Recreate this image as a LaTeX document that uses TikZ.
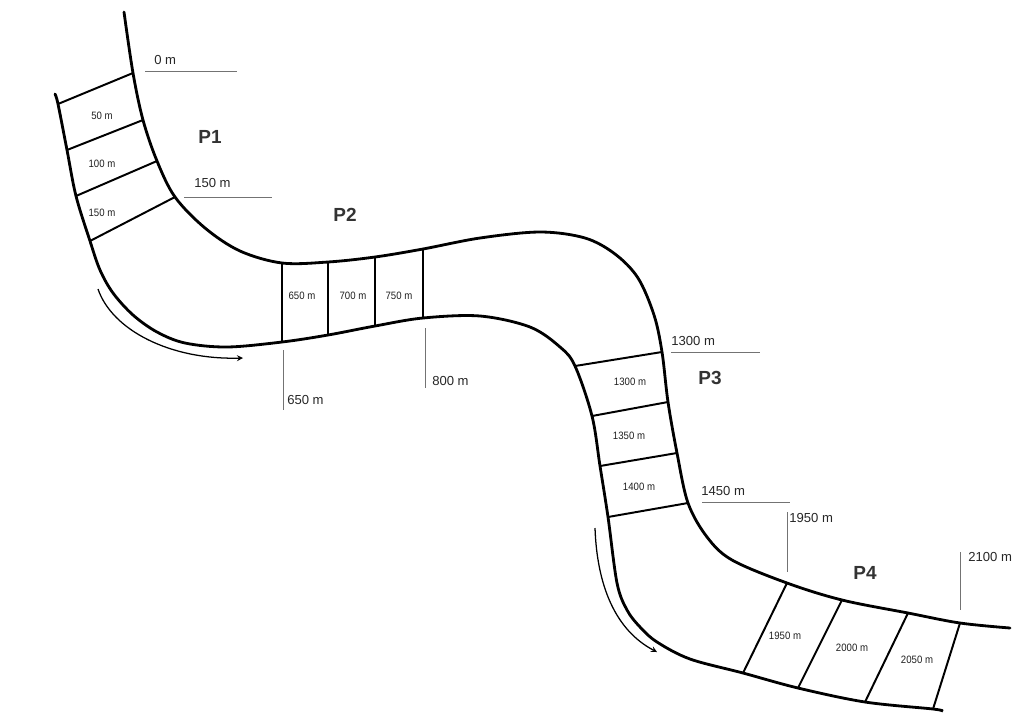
\documentclass[tikz,border=0pt]{standalone}
\usepackage{fontspec}
\setmainfont{Liberation Sans}
\newfontfamily\narrowfont[FakeStretch=0.9]{Liberation Sans}
\usepackage{tikz}

\begin{document}
\begin{tikzpicture}[x=0.025cm, y=-0.025cm, >=stealth,
    road/.style={line width=2pt, line cap=round},
    bar/.style={line width=1.4pt},
    guide/.style={line width=0.6pt, black!55},
    distlbl/.style={font=\fontsize{9.3}{11}\selectfont, text=black!85, anchor=west, inner sep=0pt},
    small/.style={font=\narrowfont\fontsize{7.6}{9}\selectfont, text=black!88, inner sep=0pt},
    sec/.style={font=\bfseries\fontsize{13.5}{16}\selectfont, text=black!80, inner sep=0pt}]
    \useasboundingbox (0,0) rectangle (1023,719);

    % Cross bars, outer end (a) and inner end (b)
    \coordinate (a1) at (133,73);   \coordinate (b1) at (58,104);
    \coordinate (a2) at (143,120);  \coordinate (b2) at (67,150);
    \coordinate (a3) at (157,161);  \coordinate (b3) at (76,196);
    \coordinate (a4) at (175,197);  \coordinate (b4) at (90,241);
    \coordinate (a5) at (282,263);  \coordinate (b5) at (282,342);
    \coordinate (a6) at (328,262);  \coordinate (b6) at (328,335);
    \coordinate (a7) at (375,257);  \coordinate (b7) at (375,326);
    \coordinate (a8) at (423,249);  \coordinate (b8) at (423,318);
    \coordinate (a9) at (662,352);  \coordinate (b9) at (575,366);
    \coordinate (a10) at (668,402); \coordinate (b10) at (592,416);
    \coordinate (a11) at (677,453); \coordinate (b11) at (600,466);
    \coordinate (a12) at (688,503); \coordinate (b12) at (608,517);
    \coordinate (a13) at (787,583); \coordinate (b13) at (743,673);
    \coordinate (a14) at (842,600); \coordinate (b14) at (798,688);
    \coordinate (a15) at (908,613); \coordinate (b15) at (865,702);
    \coordinate (a16) at (960,623); \coordinate (b16) at (933,709);

    % Road edges
    \draw[road] plot[smooth, tension=0.55] coordinates {(124,12) (a1) (a2) (a3) (a4) (205,228) (240,251) (a5) (a6) (a7) (a8) (480,238) (540,232) (585,238) (615,254) (638,278) (654,315) (a9) (a10) (a11) (a12) (707,537) (732,560) (a13) (a14) (a15) (a16) (1010,628)};
    \draw[road] plot[smooth, tension=0.55] coordinates {(55,94) (b1) (b2) (b3) (b4) (100,270) (113,293) (133,315) (157,332) (185,343) (227,347) (b5) (b6) (b7) (b8) (480,316) (530,327) (560,347) (b9) (b10) (b11) (b12) (617,583) (627,610) (640,627) (657,642) (690,659) (b13) (b14) (b15) (b16) (942,711)};

    \foreach \i in {1,...,16}
        \draw[bar] (a\i) -- (b\i);

    % Section labels
    \node[small] (s50) at (102,116) {50 m};
    \node[small] (s100) at (102,164) {100 m};
    \node[small] (s150) at (102,213) {150 m};
    \node[small] (s650) at (302,296) {650 m};
    \node[small] (s700) at (353,296) {700 m};
    \node[small] (s750) at (399,296) {750 m};
    \node[small] (s1300) at (630,382) {1300 m};
    \node[small] (s1350) at (629,436) {1350 m};
    \node[small] (s1400) at (639,487) {1400 m};
    \node[small] (s1950) at (785,636) {1950 m};
    \node[small] (s2000) at (852,648) {2000 m};
    \node[small] (s2050) at (917,660) {2050 m};

    \node[sec] (p1) at (210,137) {P1};
    \node[sec] (p2) at (345,215) {P2};
    \node[sec] (p3) at (710,378) {P3};
    \node[sec] (p4) at (865,573) {P4};

    % Distance marks
    \coordinate (g0) at (145,71);    \coordinate (h0) at (237,71);
    \coordinate (g150) at (184,197); \coordinate (h150) at (272,197);
    \coordinate (g650) at (283,350); \coordinate (h650) at (283,410);
    \coordinate (g800) at (425,328); \coordinate (h800) at (425,388);
    \coordinate (g1300) at (671,352); \coordinate (h1300) at (760,352);
    \coordinate (g1450) at (702,502); \coordinate (h1450) at (790,502);
    \coordinate (g1950) at (787,512); \coordinate (h1950) at (787,572);
    \coordinate (g2100) at (960,552); \coordinate (h2100) at (960,610);
    \foreach \d in {0,150,650,800,1300,1450,1950,2100}
        \draw[guide] (g\d) -- (h\d);

    \node[distlbl] (m0) at (154,60) {0 m};
    \node[distlbl] (m150) at (194,183) {150 m};
    \node[distlbl] (m650) at (287,400) {650 m};
    \node[distlbl] (m800) at (432,381) {800 m};
    \node[distlbl] (m1300) at (671,341) {1300 m};
    \node[distlbl] (m1450) at (701,491) {1450 m};
    \node[distlbl] (m1950) at (789,518) {1950 m};
    \node[distlbl] (m2100) at (968,557) {2100 m};

    % Driving direction
    \coordinate (d1) at (98,289);  \coordinate (e1) at (243,358);
    \coordinate (d2) at (595,528); \coordinate (e2) at (657,652);
    \draw[->, line width=0.9pt] (d1) .. controls (112,330) and (170,360) .. (e1);
    \draw[->, line width=0.9pt] (d2) .. controls (597,585) and (615,630) .. (e2);
\end{tikzpicture}
\end{document}
